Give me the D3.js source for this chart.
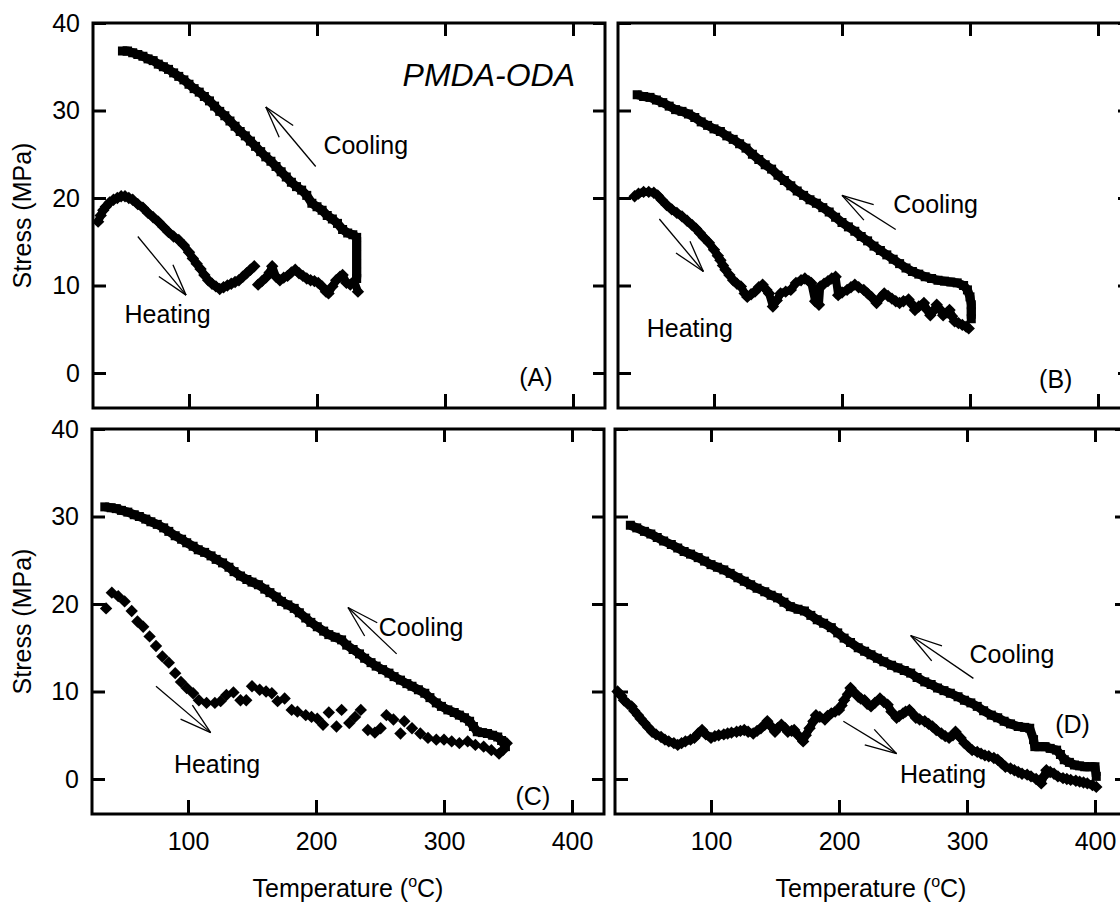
<!DOCTYPE html>
<html>
<head>
<meta charset="utf-8">
<script src="https://cdn.jsdelivr.net/npm/d3@7"></script>
<style>
  html, body { margin: 0; padding: 0; background: #fff; }
  svg { display: block; font-family: Arial, 'Liberation Sans', Helvetica, sans-serif; }
</style>
</head>
<body>
<div class="canvas"></div>
<script>
// [temperature (C), stress (MPa)], null = gap in the record
const coolA = [[48,36.8],[52,36.8],[56,36.6],[60,36.4],[64,36.2],[68,35.9],[72,35.7],[76,35.3],[80,35.0],[84,34.7],[88,34.3],[92,33.9],[96,33.5],[100,33.0],[104,32.5],[108,32.1],[112,31.6],[116,31.1],[120,30.5],[124,29.9],[128,29.4],[132,28.8],[136,28.2],[140,27.6],[144,27.1],[148,26.5],[152,25.9],[156,25.3],[160,24.7],[164,24.2],[168,23.6],[172,23.0],[176,22.4],[180,21.8],[184,21.3],[188,20.9],[192,20.3],[196,19.4],[200,19.0],[204,18.6],[208,18.0],[212,17.6],[216,17.1],[220,16.4],[224,16.0],[228,15.8],[231,15.5],[231,14.5],[231,13.5],[231,12.5],[231,11.5],[231,10.8]];
const heatA = [[29,17.3],[31,18.0],[33,18.6],[35,19.0],[38,19.5],[41,19.8],[44,20.0],[47,20.2],[50,20.2],[53,20.0],[56,19.8],[60,19.3],[64,18.9],[68,18.3],[72,17.8],[76,17.3],[80,16.7],[84,16.1],[88,15.6],[92,15.2],[96,14.6],[100,13.8],[103,13.1],[106,12.5],[109,11.9],[112,11.2],[115,10.6],[118,10.2],[121,9.9],[124,9.6],[127,9.8],[130,10.0],[133,10.2],[136,10.4],[139,10.6],[142,11.0],[145,11.4],[148,11.8],[151,12.2],[152,null],[154,10.1],[157,10.5],[160,10.9],[163,11.5],[165,12.2],[168,11.0],[171,10.6],[174,10.9],[177,11.1],[180,11.5],[183,11.8],[186,11.4],[189,11.1],[192,10.8],[195,10.6],[198,10.5],[201,10.3],[204,9.9],[207,9.3],[209,9.1],[212,9.9],[215,10.6],[218,11.0],[220,11.2],[223,10.3],[226,10.1],[229,10.5],[232,9.3]];

const coolB = [[40,31.8],[45,31.6],[50,31.5],[55,31.2],[60,30.9],[65,30.5],[70,30.1],[75,29.9],[80,29.6],[85,29.2],[90,28.7],[95,28.3],[100,27.9],[105,27.6],[110,27.1],[115,26.7],[120,26.2],[125,25.7],[130,25.0],[135,24.4],[140,23.8],[145,23.3],[150,22.6],[155,22.0],[160,21.4],[165,20.8],[170,20.3],[175,19.8],[180,19.4],[185,18.9],[190,18.4],[195,17.8],[200,17.2],[205,16.7],[210,16.2],[215,15.6],[220,15.1],[225,14.5],[230,14.0],[235,13.5],[240,13.0],[245,12.5],[250,12.0],[255,11.6],[260,11.3],[265,11.0],[270,10.8],[275,10.6],[280,10.5],[285,10.4],[290,10.3],[295,10.0],[298,9.5],[300,8.7],[301,7.8],[301,7.0],[301,6.2]];
const heatB = [[38,20.2],[41,20.5],[45,20.7],[49,20.7],[53,20.6],[56,20.3],[59,19.8],[63,19.2],[67,18.7],[71,18.3],[75,17.9],[79,17.4],[83,16.9],[86,16.5],[89,16.0],[92,15.5],[96,14.9],[100,14.1],[103,13.4],[105,12.9],[107,12.3],[109,11.8],[112,11.2],[115,10.6],[118,10.2],[121,9.9],[124,9.1],[126,8.7],[129,9.0],[132,9.3],[135,9.8],[138,10.1],[141,9.5],[143,9.1],[146,7.6],[149,8.3],[152,9.1],[156,9.3],[160,9.5],[164,10.3],[168,10.6],[171,10.8],[174,10.5],[176,10.3],[179,8.2],[182,7.8],[183,9.9],[186,10.2],[189,10.5],[192,10.8],[195,11.0],[197,8.9],[200,9.2],[204,9.5],[207,9.8],[210,10.1],[213,9.8],[217,9.5],[220,9.1],[223,8.7],[227,8.0],[230,8.6],[233,9.1],[236,8.8],[239,8.5],[242,8.2],[245,8.0],[248,8.2],[252,8.4],[255,7.8],[257,7.2],[260,7.6],[264,8.0],[266,7.3],[269,6.6],[272,7.2],[274,7.8],[277,7.2],[279,6.6],[282,6.9],[284,7.2],[286,6.5],[288,5.9],[291,5.7],[294,5.5],[297,5.3],[299,5.1]];

const coolC = [[35,31.1],[40,31.0],[44,30.9],[48,30.7],[53,30.5],[58,30.2],[62,30.0],[67,29.7],[71,29.4],[76,29.1],[81,28.7],[85,28.3],[90,27.8],[95,27.4],[99,27.0],[104,26.6],[108,26.2],[113,25.9],[118,25.5],[122,25.1],[127,24.7],[132,24.2],[136,23.7],[141,23.2],[146,22.8],[150,22.5],[155,22.2],[160,21.7],[164,21.3],[169,20.8],[173,20.3],[178,19.9],[183,19.5],[187,19.0],[192,18.4],[196,17.9],[201,17.4],[206,16.9],[210,16.5],[215,16.2],[220,15.9],[224,15.3],[229,14.8],[234,14.3],[238,13.8],[243,13.3],[247,12.9],[252,12.5],[257,12.1],[261,11.7],[266,11.3],[271,10.9],[275,10.6],[280,10.2],[285,9.8],[289,9.3],[294,8.7],[298,8.3],[303,7.9],[308,7.6],[312,7.3],[316,7.0],[320,6.6],[323,6.0],[326,5.4],[330,5.3],[334,5.2],[338,5.0],[342,4.8],[345,4.4],[348,3.7]];
const heatC = [[36,19.5],[40.5,21.3],[45.5,20.9],[50.5,20.3],[56,19.2],[60.5,18.0],[65,17.4],[70,16.3],[75,15.2],[80,14.0],[85,13.3],[90,12.1],[94.5,11.1],[99,10.4],[104,9.8],[108.5,9.0],[114.5,8.7],[121,8.7],[125.5,8.9],[130,9.6],[135.5,9.9],[141,9.0],[145.5,9.0],[150,10.6],[156,10.2],[161,10.0],[165.5,9.8],[170,8.9],[175.5,9.2],[181,7.9],[185.5,7.7],[192,7.3],[196.5,7.1],[201,6.9],[205.5,6.2],[210,7.6],[216,6.0],[220,7.9],[226,6.4],[230.5,7.1],[235,7.9],[240.5,5.6],[246,5.3],[250.5,5.8],[255,7.3],[260.5,6.8],[266,5.2],[269,6.6],[275,5.8],[281.5,5.2],[287.5,4.7],[294,4.5],[300,4.5],[306,4.3],[312,4.1],[318.5,4.3],[324.5,3.9],[331,3.7],[337,3.3],[343,2.9],[346,3.3],[349,4.1]];

const coolD = [[37,29.0],[42,28.7],[48,28.3],[53,28.0],[58,27.6],[63,27.2],[69,26.8],[74,26.4],[79,26.0],[84,25.7],[90,25.3],[95,24.9],[100,24.5],[105,24.2],[110,23.9],[115,23.5],[121,23.0],[126,22.6],[131,22.2],[136,21.8],[142,21.4],[147,21.0],[152,20.7],[157,20.2],[162,19.7],[168,19.4],[173,19.2],[178,18.7],[183,18.2],[188,17.8],[194,17.3],[199,16.7],[204,16.1],[209,15.6],[215,15.0],[220,14.6],[225,14.2],[230,13.8],[235,13.4],[241,13.0],[246,12.7],[251,12.4],[256,12.1],[261,11.6],[267,11.1],[272,10.8],[277,10.4],[282,10.1],[287,9.8],[293,9.4],[298,9.0],[303,8.7],[308,8.3],[313,7.8],[319,7.3],[324,7.0],[329,6.6],[334,6.3],[340,6.0],[345,5.9],[349,5.8],[352,4.5],[353,3.7],[357,3.7],[361,3.7],[365,3.5],[370,3.3],[373,2.8],[376,2.2],[380,1.9],[384,1.6],[388,1.5],[392,1.4],[396,1.4],[400,1.4],[401,0.3]];
const heatD = [[27,10.0],[30,9.5],[32,9.0],[35,8.6],[38,8.3],[40,7.8],[43,7.3],[45,6.9],[48,6.4],[51,5.9],[54,5.4],[57,5.1],[61,4.8],[64,4.5],[67,4.3],[71,4.1],[74,3.9],[77,4.1],[80,4.3],[84,4.5],[87,4.7],[90,5.2],[93,5.6],[96,5.1],[100,4.7],[103,4.9],[106,5.0],[110,5.1],[113,5.2],[116,5.3],[120,5.4],[123,5.5],[126,5.6],[129,5.4],[133,5.2],[136,5.5],[139,5.8],[142,6.2],[144,6.6],[147,6.0],[150,5.4],[152,5.8],[155,6.2],[158,5.8],[160,5.4],[163,5.5],[165,5.6],[168,5.0],[172,4.3],[174,5.0],[177,5.8],[180,6.6],[182,7.3],[185,7.1],[189,6.8],[191,7.2],[194,7.5],[197,7.7],[200,7.9],[202,8.4],[204,9.0],[207,9.7],[209,10.4],[212,9.9],[215,9.4],[217,9.2],[220,9.0],[222,8.6],[225,8.3],[228,8.7],[232,9.2],[235,8.8],[238,8.5],[241,7.7],[245,7.0],[247,7.2],[250,7.5],[252,7.7],[255,7.9],[258,7.4],[260,7.0],[263,6.8],[267,6.6],[270,6.3],[273,6.0],[276,5.6],[280,5.2],[283,4.9],[286,4.7],[289,5.0],[291,5.4],[295,4.7],[298,4.1],[301,3.7],[304,3.3],[308,3.1],[311,2.9],[314,2.7],[317,2.6],[321,2.4],[324,2.2],[327,1.8],[330,1.4],[334,1.2],[337,1.0],[340,0.8],[343,0.6],[347,0.5],[350,0.3],[354,0.0],[358,-0.5],[360,0.3],[362,1.0],[365,0.8],[368,0.6],[371,0.3],[375,0.1],[378,0.0],[381,-0.1],[385,-0.2],[388,-0.3],[391,-0.4],[394,-0.5],[398,-0.7],[401,-0.9]];

const xTicks = [100, 200, 300, 400];
const yTicks = [0, 10, 20, 30, 40];
const panelTags = ['(A)', '(B)', '(C)', '(D)'];

const W = 512, H = 385;
const fontStack = "Arial, 'Liberation Sans', Helvetica, sans-serif";

// layout + annotation anchors (in data units) for each panel
const panels = [
  { left: 93, top: 23, cool: coolA, heat: heatA, heatLine: true, yLab: true, xLab: false,
    coolText: [205, 25.0], coolArrow: [[199, 23.6], [160, 30.4]],
    heatText: [49.6, 5.7], heatArrow: [[60, 15.6], [97.7, 8.9]], tagAt: [384, -1.5] },
  { left: 618, top: 23, cool: coolB, heat: heatB, heatLine: true, yLab: false, xLab: false,
    coolText: [240, 18.3], coolArrow: [[242, 16.4], [200, 20.3]],
    heatText: [47.4, 4.1], heatArrow: [[57.3, 17.6], [91.7, 11.6]], tagAt: [380, -1.7] },
  { left: 92, top: 429, cool: coolC, heat: heatC, heatLine: false, yLab: true, xLab: true,
    coolText: [249, 16.3], coolArrow: [[263, 14.3], [225, 19.6]],
    heatText: [89, 0.7], heatArrow: [[75, 10.6], [117.7, 5.3]], tagAt: [383, -3.0] },
  { left: 615, top: 429, cool: coolD, heat: heatD, heatLine: true, yLab: false, xLab: true,
    coolText: [302, 13.3], coolArrow: [[305, 11.5], [256, 16.4]],
    heatText: [247.7, -0.5], heatArrow: [[203.4, 6.6], [245, 2.9]], tagAt: [396, 5.3] }
];

const svg = d3.select('.canvas')
  .append('svg')
  .attr('width', 1120)
  .attr('height', 902);

function arrow(g, x0, y0, x1, y1) {
  // open arrow, tail (x0,y0) -> tip (x1,y1)
  g.append('line').attr('x1', x0).attr('y1', y0).attr('x2', x1).attr('y2', y1);
  const ang = Math.atan2(y0 - y1, x0 - x1);
  [-0.28, 0.28].forEach(d => {
    g.append('line')
      .attr('x1', x1).attr('y1', y1)
      .attr('x2', x1 + 33 * Math.cos(ang + d))
      .attr('y2', y1 + 33 * Math.sin(ang + d));
  });
}

panels.forEach((p, i) => {
  const g = svg.append('g').attr('transform', `translate(${p.left}, ${p.top})`);

  const x = d3.scaleLinear().domain([25, 425]).range([0, W]);
  const y = d3.scaleLinear().domain([-4, 40]).range([H, 0]);

  // ticks on all four sides, pointing inwards
  const styleAxis = (sel, showLabels) => {
    sel.select('.domain').remove();
    sel.selectAll('.tick line').attr('stroke', '#000').attr('stroke-width', 3);
    sel.selectAll('.tick text')
      .attr('font-family', fontStack)
      .attr('font-size', 25)
      .attr('fill', '#000')
      .style('display', showLabels ? null : 'none');
  };

  g.append('g').attr('transform', `translate(0, ${H})`)
    .call(d3.axisBottom(x).tickValues(xTicks).tickSize(-14).tickPadding(18))
    .call(s => styleAxis(s, p.xLab));
  g.append('g')
    .call(d3.axisTop(x).tickValues(xTicks).tickSize(-13))
    .call(s => styleAxis(s, false));
  g.append('g')
    .call(d3.axisLeft(y).tickValues(yTicks).tickSize(-13).tickPadding(13))
    .call(s => styleAxis(s, p.yLab));
  g.append('g').attr('transform', `translate(${W}, 0)`)
    .call(d3.axisRight(y).tickValues(yTicks).tickSize(-12))
    .call(s => styleAxis(s, false));

  const plot = g.append('g');

  const line = d3.line()
    .defined(d => d[1] != null)
    .x(d => x(d[0]))
    .y(d => y(d[1]));

  // cooling: squares
  plot.append('path')
    .datum(p.cool)
    .attr('d', line)
    .attr('fill', 'none')
    .attr('stroke', '#000')
    .attr('stroke-width', 9)
    .attr('stroke-linejoin', 'round');
  plot.selectAll('.sq')
    .data(p.cool)
    .enter()
    .append('rect')
    .attr('x', d => x(d[0]) - 4.5)
    .attr('y', d => y(d[1]) - 4.5)
    .attr('width', 9)
    .attr('height', 9)
    .attr('fill', '#000');

  // heating: diamonds
  if (p.heatLine) {
    plot.append('path')
      .datum(p.heat)
      .attr('d', line)
      .attr('fill', 'none')
      .attr('stroke', '#000')
      .attr('stroke-width', 8)
      .attr('stroke-linejoin', 'round');
  }
  plot.selectAll('.dm')
    .data(p.heat.filter(d => d[1] != null))
    .enter()
    .append('path')
    .attr('d', 'M0,-6.2L6.2,0L0,6.2L-6.2,0Z')
    .attr('transform', d => `translate(${x(d[0])}, ${y(d[1])})`)
    .attr('fill', '#000');

  // frame
  g.append('rect')
    .attr('width', W)
    .attr('height', H)
    .attr('fill', 'none')
    .attr('stroke', '#000')
    .attr('stroke-width', 3);

  // annotations
  const ann = g.append('g')
    .attr('font-family', fontStack)
    .attr('font-size', 25)
    .attr('fill', '#000');
  ann.append('text').attr('x', x(p.coolText[0])).attr('y', y(p.coolText[1])).text('Cooling');
  ann.append('text').attr('x', x(p.heatText[0])).attr('y', y(p.heatText[1])).text('Heating');
  ann.append('text').attr('x', x(p.tagAt[0])).attr('y', y(p.tagAt[1]))
    .attr('text-anchor', 'end').text(panelTags[i]);

  const arr = g.append('g').attr('stroke', '#000').attr('stroke-width', 1.3).attr('fill', 'none');
  arrow(arr, x(p.coolArrow[0][0]), y(p.coolArrow[0][1]), x(p.coolArrow[1][0]), y(p.coolArrow[1][1]));
  arrow(arr, x(p.heatArrow[0][0]), y(p.heatArrow[0][1]), x(p.heatArrow[1][0]), y(p.heatArrow[1][1]));

  if (i === 0) {
    ann.append('text')
      .attr('x', x(401.6))
      .attr('y', y(32.8))
      .attr('text-anchor', 'end')
      .attr('font-style', 'italic')
      .attr('font-size', 32)
      .text('PMDA-ODA');
  }

  // axis titles
  if (p.yLab) {
    svg.append('text')
      .attr('transform', `translate(31, ${p.top + H / 2}) rotate(-90)`)
      .attr('text-anchor', 'middle')
      .attr('font-family', fontStack)
      .attr('font-size', 25)
      .text('Stress (MPa)');
  }
  if (p.xLab) {
    const t = svg.append('text')
      .attr('x', p.left + W / 2)
      .attr('y', 897)
      .attr('text-anchor', 'middle')
      .attr('font-family', fontStack)
      .attr('font-size', 25);
    t.append('tspan').text('Temperature (');
    t.append('tspan').attr('font-size', 16).attr('dy', -10).text('o');
    t.append('tspan').attr('dy', 10).text('C)');
  }
});
</script>
</body>
</html>
